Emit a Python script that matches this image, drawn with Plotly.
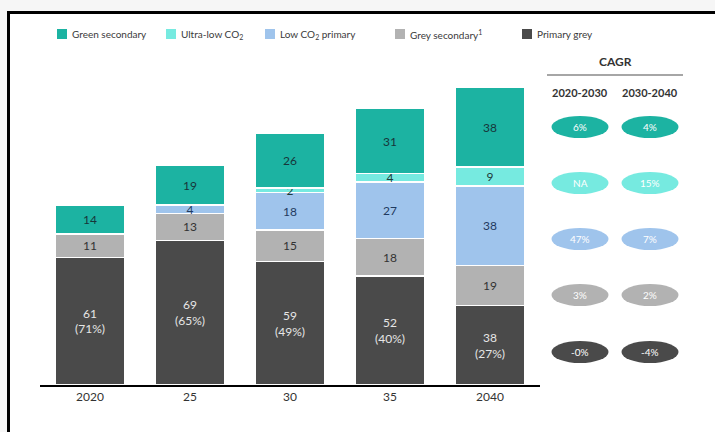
import plotly.graph_objects as go

# ---- data ----
years = ["2020", "25", "30", "35", "2040"]
primary_grey = [61, 69, 59, 52, 38]
primary_share = ["71%", "65%", "49%", "40%", "27%"]
grey_secondary = [11, 13, 15, 18, 19]
low_co2_primary = [0, 4, 18, 27, 38]
ultra_low_co2 = [0, 0, 2, 4, 9]
green_secondary = [14, 19, 26, 31, 38]
totals = [85, 105, 121, 131, 142]

series_names = ["Green secondary", "Ultra-low CO<sub>2</sub>", "Low CO<sub>2</sub> primary",
                "Grey secondary<sup>1</sup>", "Primary grey"]
cagr_headers = ["2020-2030", "2030-2040"]
cagr_2020_2030 = ["6%", "NA", "47%", "3%", "-0%"]
cagr_2030_2040 = ["4%", "15%", "7%", "2%", "-4%"]

# ---- style ----
C_GREEN = "#1cb3a2"
C_ULTRA = "#76eae0"
C_LOW = "#9fc4ec"
C_GREYSEC = "#b2b2b2"
C_PRIMARY = "#4a4a4a"
FONT = "Lato"
W, H = 715, 432


def px(x):
    return x / W


def py(y):
    return 1 - y / H


fig = go.Figure()

stack = [
    (primary_grey, C_PRIMARY, [f"{v}<br>({s})" for v, s in zip(primary_grey, primary_share)], "#e6e6e6", "Primary grey"),
    (grey_secondary, C_GREYSEC, None, "#333333", "Grey secondary"),
    (low_co2_primary, C_LOW, None, "#1f3a60", "Low CO2 primary"),
    (ultra_low_co2, C_ULTRA, None, "#1f3a3a", "Ultra-low CO2"),
    (green_secondary, C_GREEN, None, "#17363a", "Green secondary"),
]

for vals, color, txt, tcolor, name in stack:
    labels = txt if txt else [str(v) for v in vals]
    # zero-height segments are left out entirely
    keep = [i for i, v in enumerate(vals) if v]
    fig.add_trace(go.Bar(
        x=[years[i] for i in keep], y=[vals[i] for i in keep], name=name, showlegend=False,
        marker=dict(color=color, line=dict(color="white", width=1.5)),
        text=[labels[i] for i in keep],
        textposition="inside", insidetextanchor="middle",
        constraintext="none", textangle=0,
        textfont=dict(family=FONT, size=12, color=tcolor),
        hoverinfo="skip",
    ))

# totals above each bar
stack_heights = [sum(v) for v in zip(primary_grey, grey_secondary, low_co2_primary,
                                      ultra_low_co2, green_secondary)]
for yr, h, t in zip(years, stack_heights, totals):
    fig.add_annotation(x=yr, y=h, text=str(t), showarrow=False, yanchor="bottom",
                       yshift=3, font=dict(family=FONT, size=12, color="#333333"))


def label(x, y, text, size, color, xanchor="center"):
    fig.add_annotation(xref="paper", yref="paper", x=px(x), y=py(y), text=text,
                       showarrow=False, xanchor=xanchor, yanchor="middle",
                       font=dict(family=FONT, size=size, color=color))


shapes = []
# page frame
shapes.append(dict(type="rect", xref="paper", yref="paper", x0=px(8.5), x1=1.05,
                   y0=-0.05, y1=py(12.5), fillcolor="white",
                   line=dict(color="black", width=3), layer="below"))

# legend
legend_colors = [C_GREEN, C_ULTRA, C_LOW, C_GREYSEC, C_PRIMARY]
legend_x = [57, 166, 265, 395, 522]
for name, col, lx in zip(series_names, legend_colors, legend_x):
    shapes.append(dict(type="rect", xref="paper", yref="paper", x0=px(lx), x1=px(lx + 10),
                       y0=py(39), y1=py(29), fillcolor=col, line=dict(width=0)))
    label(lx + 13, 34, name, 10, "#3a3a3a", xanchor="left")

# CAGR panel
label(615, 61, "<b>CAGR</b>", 12, "#333333")
shapes.append(dict(type="line", xref="paper", yref="paper", x0=px(547), x1=px(683),
                   y0=py(75), y1=py(75), line=dict(color="#888888", width=1.5)))
col_x = [580, 650]
for cx, hd in zip(col_x, cagr_headers):
    label(cx, 92, f"<b>{hd}</b>", 11, "#333333")

row_y = [127, 183, 239, 295, 352]
for ry, col, a, b in zip(row_y, legend_colors, cagr_2020_2030, cagr_2030_2040):
    for cx, val in zip(col_x, (a, b)):
        shapes.append(dict(type="circle", xref="paper", yref="paper",
                           x0=px(cx - 28.5), x1=px(cx + 28.5), y0=py(ry + 11), y1=py(ry - 11),
                           fillcolor=col, line=dict(width=0)))
        label(cx, ry, val, 10, "white")

fig.update_layout(
    width=W, height=H, margin=dict(l=0, r=0, t=0, b=0),
    paper_bgcolor="#f6f6f6", plot_bgcolor="rgba(0,0,0,0)",
    barmode="stack", bargap=0.3,
    shapes=shapes, showlegend=False,
    font=dict(family=FONT),
    xaxis=dict(domain=[px(40), px(540)], type="category", range=[-0.5, 4.5],
               showline=True, linecolor="black", linewidth=1.5, ticks="",
               tickfont=dict(family=FONT, size=12, color="#333333"), showgrid=False,
               fixedrange=True),
    yaxis=dict(domain=[py(385), py(60.4)], range=[0, 155], visible=False,
               showgrid=False, zeroline=False, fixedrange=True),
)

fig.write_html("out.html")
